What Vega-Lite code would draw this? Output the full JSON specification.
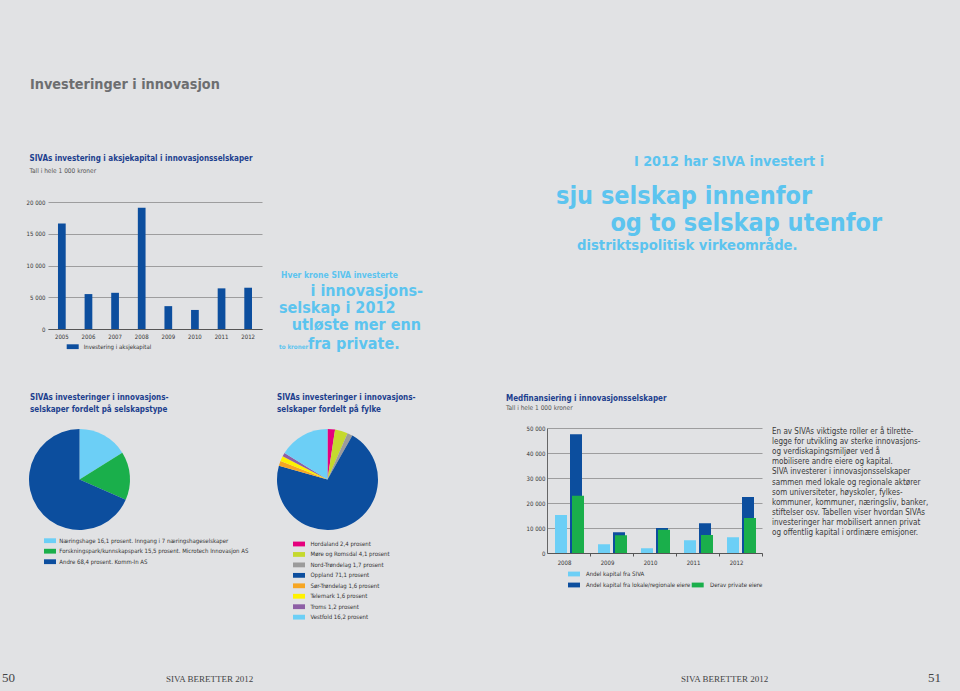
{
  "$schema": "https://vega.github.io/schema/vega-lite/v6.json",
  "padding": 0,
  "autosize": {"type": "pad"},
  "bounds": "flush",
  "spacing": 0,
  "resolve": {
    "scale": {"x": "independent", "y": "independent", "color": "independent", "fill": "independent", "theta": "independent", "xOffset": "independent"},
    "axis": {"x": "independent", "y": "independent"},
    "legend": {"color": "independent", "fill": "independent"}
  },
  "vconcat": [
    {
      "width": 960,
      "height": 202,
      "layer": [
        {"data": {"values": [{"tekst": "Investeringer i innovasjon"}]},
         "mark": {"type": "text", "align": "left", "baseline": "alphabetic", "fontSize": 14.3, "fontWeight": "bold", "color": "#6d6e70"},
         "encoding": {"text": {"field": "tekst"}, "x": {"value": 30}, "y": {"value": 89}}},
        {"data": {"values": [{"tekst": "I 2012 har SIVA investert i"}]},
         "mark": {"type": "text", "align": "center", "baseline": "alphabetic", "fontSize": 14.3, "fontWeight": "bold", "color": "#5cc4ef"},
         "encoding": {"text": {"field": "tekst"}, "x": {"value": 729}, "y": {"value": 166}}},
        {"data": {"values": [{"tekst": "sju selskap innenfor"}]},
         "mark": {"type": "text", "align": "left", "baseline": "alphabetic", "fontSize": 25, "fontWeight": "bold", "color": "#5cc4ef"},
         "encoding": {"text": {"field": "tekst"}, "x": {"value": 556}, "y": {"value": 204}}},
        {"data": {"values": [{"tekst": "og to selskap utenfor"}]},
         "mark": {"type": "text", "align": "right", "baseline": "alphabetic", "fontSize": 25, "fontWeight": "bold", "color": "#5cc4ef"},
         "encoding": {"text": {"field": "tekst"}, "x": {"value": 882}, "y": {"value": 230.5}}},
        {"data": {"values": [{"tekst": "distriktspolitisk virkeområde."}]},
         "mark": {"type": "text", "align": "left", "baseline": "alphabetic", "fontSize": 14.7, "fontWeight": "bold", "color": "#5cc4ef"},
         "encoding": {"text": {"field": "tekst"}, "x": {"value": 577}, "y": {"value": 250}}}
      ]
    },
    {
      "spacing": 0,
      "bounds": "flush",
      "resolve": {
        "scale": {"x": "independent", "y": "independent", "color": "independent"},
        "axis": {"x": "independent", "y": "independent"},
        "legend": {"color": "independent"}
      },
      "hconcat": [
        {"width": 48, "height": 1, "data": {"values": []}, "mark": "point"},
        {
          "width": 214,
          "height": 127,
          "title": {"text": "SIVAs investering i aksjekapital i innovasjonsselskaper", "subtitle": "Tall i hele 1 000 kroner", "anchor": "start", "frame": "group", "dx": -18.5, "fontSize": 8, "subtitleFontSize": 6.5, "subtitlePadding": 5.2, "offset": 24.5},
          "data": {"values": [
            {"aar": "2005", "beloep": 16600},
            {"aar": "2006", "beloep": 5500},
            {"aar": "2007", "beloep": 5700},
            {"aar": "2008", "beloep": 19100},
            {"aar": "2009", "beloep": 3600},
            {"aar": "2010", "beloep": 3000},
            {"aar": "2011", "beloep": 6400},
            {"aar": "2012", "beloep": 6500}
          ]},
          "mark": {"type": "bar"},
          "encoding": {
            "x": {"field": "aar", "type": "ordinal", "title": null,
                  "scale": {"paddingInner": 0.71, "paddingOuter": 0.375},
                  "axis": {"labelAngle": 0, "ticks": false, "labelPadding": 4, "domainColor": "#555555", "domainWidth": 1, "grid": false}},
            "y": {"field": "beloep", "type": "quantitative", "title": null,
                  "scale": {"domain": [0, 20000]},
                  "axis": {"values": [0, 5000, 10000, 15000, 20000], "labelExpr": "replace(format(datum.value, ',d'), ',', ' ')", "ticks": false, "domain": false, "labelPadding": 3, "grid": true}},
            "color": {"datum": "Investering i aksjekapital", "type": "nominal",
                      "scale": {"domain": ["Investering i aksjekapital"], "range": ["#0c4e9e"]},
                      "legend": {"orient": "none", "legendX": 21.7, "legendY": 141.7, "title": null, "symbolType": "M-2,-0.8H2V0.8H-2Z", "symbolSize": 36, "symbolStrokeWidth": 0, "labelFontSize": 6, "labelOffset": 8}}
          }
        },
        {"width": 16, "height": 1, "data": {"values": []}, "mark": "point"},
        {
          "width": 160,
          "height": 127,
          "layer": [
            {"data": {"values": [{"tekst": "Hver krone SIVA investerte"}]},
             "mark": {"type": "text", "align": "left", "baseline": "alphabetic", "fontSize": 8.5, "fontWeight": "bold", "color": "#5cc4ef"},
             "encoding": {"text": {"field": "tekst"}, "x": {"value": 3}, "y": {"value": 76.3}}},
            {"data": {"values": [{"tekst": "i innovasjons-"}]},
             "mark": {"type": "text", "align": "right", "baseline": "alphabetic", "fontSize": 16, "fontWeight": "bold", "color": "#5cc4ef"},
             "encoding": {"text": {"field": "tekst"}, "x": {"value": 145}, "y": {"value": 93.5}}},
            {"data": {"values": [{"tekst": "selskap i 2012"}]},
             "mark": {"type": "text", "align": "left", "baseline": "alphabetic", "fontSize": 16, "fontWeight": "bold", "color": "#5cc4ef"},
             "encoding": {"text": {"field": "tekst"}, "x": {"value": 1}, "y": {"value": 110.5}}},
            {"data": {"values": [{"tekst": "utløste mer enn"}]},
             "mark": {"type": "text", "align": "right", "baseline": "alphabetic", "fontSize": 16, "fontWeight": "bold", "color": "#5cc4ef"},
             "encoding": {"text": {"field": "tekst"}, "x": {"value": 143}, "y": {"value": 128.3}}},
            {"data": {"values": [{"tekst": "to kroner"}]},
             "mark": {"type": "text", "align": "left", "baseline": "alphabetic", "fontSize": 6.2, "fontWeight": "bold", "color": "#5cc4ef"},
             "encoding": {"text": {"field": "tekst"}, "x": {"value": 1}, "y": {"value": 146.6}}},
            {"data": {"values": [{"tekst": "fra private."}]},
             "mark": {"type": "text", "align": "left", "baseline": "alphabetic", "fontSize": 16, "fontWeight": "bold", "color": "#5cc4ef"},
             "encoding": {"text": {"field": "tekst"}, "x": {"value": 30}, "y": {"value": 147}}}
          ]
        }
      ]
    },
    {"width": 1, "height": 226, "data": {"values": []}, "mark": "point"},
    {
      "spacing": 0,
      "bounds": "flush",
      "resolve": {
        "scale": {"x": "independent", "y": "independent", "color": "independent", "fill": "independent", "theta": "independent", "xOffset": "independent"},
        "axis": {"x": "independent", "y": "independent"},
        "legend": {"color": "independent", "fill": "independent"}
      },
      "hconcat": [
        {
          "width": 159,
          "height": 103,
          "title": {"text": ["SIVAs investeringer i innovasjons-", "selskaper fordelt på selskapstype"], "anchor": "start", "frame": "group", "dx": 30, "fontSize": 8, "lineHeight": 11.6, "offset": 14.2},
          "data": {"values": [
            {"kategori": "Næringshage 16,1 prosent. Inngang i 7 næringshageselskaper", "andel": 16.1, "rekkefolge": 1},
            {"kategori": "Forskningspark/kunnskapspark 15,5 prosent. Microtech Innovasjon AS", "andel": 15.5, "rekkefolge": 2},
            {"kategori": "Andre 68,4 prosent. Komm-In AS", "andel": 68.4, "rekkefolge": 3}
          ]},
          "mark": {"type": "arc", "outerRadius": 50.5},
          "encoding": {
            "theta": {"field": "andel", "type": "quantitative", "stack": true},
            "order": {"field": "rekkefolge", "type": "quantitative"},
            "color": {"field": "kategori", "type": "nominal",
                      "scale": {"domain": ["Næringshage 16,1 prosent. Inngang i 7 næringshageselskaper", "Forskningspark/kunnskapspark 15,5 prosent. Microtech Innovasjon AS", "Andre 68,4 prosent. Komm-In AS"], "range": ["#6ccff6", "#1aaf4b", "#0c4e9e"]},
                      "legend": {"orient": "none", "legendX": 47, "legendY": 109.7, "title": null, "symbolType": "M-2,-0.8H2V0.8H-2Z", "symbolSize": 36, "symbolStrokeWidth": 0, "labelFontSize": 6, "labelOffset": 6.3, "rowPadding": 4.5, "labelLimit": 400}}
          }
        },
        {
          "width": 337,
          "height": 103,
          "title": {"text": ["SIVAs investeringer i innovasjons-", "selskaper fordelt på fylke"], "anchor": "start", "frame": "group", "dx": 118, "fontSize": 8, "lineHeight": 11.6, "offset": 14.2},
          "data": {"values": [
            {"fylke": "Hordaland 2,4 prosent", "andel": 2.4, "rekkefolge": 1},
            {"fylke": "Møre og Romsdal 4,1 prosent", "andel": 4.1, "rekkefolge": 2},
            {"fylke": "Nord-Trøndelag 1,7 prosent", "andel": 1.7, "rekkefolge": 3},
            {"fylke": "Oppland 71,1 prosent", "andel": 71.1, "rekkefolge": 4},
            {"fylke": "Sør-Trøndelag 1,6 prosent", "andel": 1.6, "rekkefolge": 5},
            {"fylke": "Telemark 1,6 prosent", "andel": 1.6, "rekkefolge": 6},
            {"fylke": "Troms 1,2 prosent", "andel": 1.2, "rekkefolge": 7},
            {"fylke": "Vestfold 16,2 prosent", "andel": 16.2, "rekkefolge": 8}
          ]},
          "mark": {"type": "arc", "outerRadius": 50.5},
          "encoding": {
            "theta": {"field": "andel", "type": "quantitative", "stack": true},
            "order": {"field": "rekkefolge", "type": "quantitative"},
            "color": {"field": "fylke", "type": "nominal",
                      "scale": {"domain": ["Hordaland 2,4 prosent", "Møre og Romsdal 4,1 prosent", "Nord-Trøndelag 1,7 prosent", "Oppland 71,1 prosent", "Sør-Trøndelag 1,6 prosent", "Telemark 1,6 prosent", "Troms 1,2 prosent", "Vestfold 16,2 prosent"],
                                "range": ["#e5007d", "#c5d92d", "#9b9b9b", "#0c4e9e", "#f6a623", "#fff200", "#8d5fa5", "#6ccff6"]},
                      "legend": {"orient": "none", "legendX": 137, "legendY": 113, "title": null, "symbolType": "M-2,-0.8H2V0.8H-2Z", "symbolSize": 36, "symbolStrokeWidth": 0, "labelFontSize": 6, "labelOffset": 8.5, "rowPadding": 4.45, "labelLimit": 400}}
          }
        },
        {"width": 51, "height": 1, "data": {"values": []}, "mark": "point"},
        {
          "width": 215,
          "height": 125,
          "title": {"text": "Medfinansiering i innovasjonsselskaper", "subtitle": "Tall i hele 1 000 kroner", "anchor": "start", "frame": "group", "dx": -41, "fontSize": 8, "subtitleFontSize": 6.5, "subtitlePadding": 2.2, "offset": 13.5},
          "encoding": {
            "x": {"field": "aar", "type": "ordinal", "title": null,
                  "scale": {"paddingInner": 0, "paddingOuter": 0},
                  "axis": {"labelAngle": 0, "ticks": true, "tickSize": 3, "bandPosition": 1, "labelPadding": 3, "labelOffset": -4, "domainColor": "#555555", "tickColor": "#555555", "grid": false}},
            "y": {"field": "beloep", "type": "quantitative", "title": null,
                  "scale": {"domain": [0, 50000]},
                  "axis": {"values": [0, 10000, 20000, 30000, 40000, 50000], "labelExpr": "replace(format(datum.value, ',d'), ',', ' ')", "ticks": false, "domain": true, "domainColor": "#666666", "labelPadding": 2, "grid": true}}
          },
          "layer": [
            {
              "data": {"name": "medfinansiering"},
              "transform": [{"filter": "datum.serie != 'Derav private eiere'"}],
              "mark": {"type": "bar"},
              "encoding": {
                "xOffset": {"field": "serie", "type": "nominal",
                            "scale": {"domain": ["Andel kapital fra SIVA", "Andel kapital fra lokale/regionale eiere"], "paddingInner": 0.2, "paddingOuter": 0.533, "align": 0.5}},
                "color": {"field": "serie", "type": "nominal",
                          "scale": {"domain": ["Andel kapital fra SIVA", "Andel kapital fra lokale/regionale eiere"], "range": ["#6ccff6", "#0c4e9e"]},
                          "legend": {"orient": "none", "legendX": 24, "legendY": 143, "title": null, "symbolType": "M-2,-0.8H2V0.8H-2Z", "symbolSize": 36, "symbolStrokeWidth": 0, "labelFontSize": 6, "labelOffset": 9, "rowPadding": 5, "labelLimit": 400}}
              }
            },
            {
              "data": {"name": "medfinansiering"},
              "transform": [{"filter": "datum.serie == 'Derav private eiere'"}],
              "mark": {"type": "bar"},
              "encoding": {
                "xOffset": {"field": "serie", "type": "nominal",
                            "scale": {"domain": ["Andel kapital fra SIVA", "Derav private eiere"], "paddingInner": 0.2, "paddingOuter": 0.533, "align": 0.625}},
                "fill": {"field": "serie", "type": "nominal",
                         "scale": {"domain": ["Derav private eiere"], "range": ["#1aaf4b"]},
                         "legend": {"orient": "none", "legendX": 147.7, "legendY": 154, "title": null, "symbolType": "M-2,-0.8H2V0.8H-2Z", "symbolSize": 36, "symbolStrokeWidth": 0, "labelFontSize": 6, "labelOffset": 9.3, "labelLimit": 400}}
              }
            },
            {
              "data": {"values": [{"avsnitt": [
                "En av SIVAs viktigste roller er å tilrette-",
                "legge for utvikling av sterke innovasjons-",
                "og verdiskapingsmiljøer ved å",
                "mobilisere andre eiere og kapital.",
                "SIVA investerer i innovasjonsselskaper",
                "sammen med lokale og regionale aktører",
                "som universiteter, høyskoler, fylkes-",
                "kommuner, kommuner, næringsliv, banker,",
                "stiftelser osv. Tabellen viser hvordan SIVAs",
                "investeringer har mobilisert annen privat",
                "og offentlig kapital i ordinære emisjoner."
              ]}]},
              "mark": {"type": "text", "align": "left", "baseline": "top", "fontSize": 8, "lineHeight": 10.1, "color": "#3a3a3a"},
              "encoding": {"text": {"field": "avsnitt"}, "x": {"value": 225}, "y": {"value": 0}}
            }
          ],
          "resolve": {"scale": {"xOffset": "independent"}}
        }
      ]
    },
    {"width": 1, "height": 232, "data": {"values": []}, "mark": "point"},
    {
      "width": 960,
      "height": 31,
      "layer": [
        {"data": {"values": [{"tekst": "50"}]},
         "mark": {"type": "text", "align": "left", "baseline": "alphabetic", "fontSize": 13, "font": "Liberation Serif, DejaVu Serif, serif", "color": "#444444"},
         "encoding": {"text": {"field": "tekst"}, "x": {"value": 2}, "y": {"value": 22}}},
        {"data": {"values": [{"tekst": "SIVA BERETTER 2012"}]},
         "mark": {"type": "text", "align": "left", "baseline": "alphabetic", "fontSize": 9, "font": "Liberation Serif, DejaVu Serif, serif", "color": "#444444"},
         "encoding": {"text": {"field": "tekst"}, "x": {"value": 166}, "y": {"value": 22}}},
        {"data": {"values": [{"tekst": "SIVA BERETTER 2012"}]},
         "mark": {"type": "text", "align": "left", "baseline": "alphabetic", "fontSize": 9, "font": "Liberation Serif, DejaVu Serif, serif", "color": "#444444"},
         "encoding": {"text": {"field": "tekst"}, "x": {"value": 681}, "y": {"value": 22}}},
        {"data": {"values": [{"tekst": "51"}]},
         "mark": {"type": "text", "align": "right", "baseline": "alphabetic", "fontSize": 13, "font": "Liberation Serif, DejaVu Serif, serif", "color": "#444444"},
         "encoding": {"text": {"field": "tekst"}, "x": {"value": 941}, "y": {"value": 22}}}
      ]
    }
  ],
  "datasets": {
    "medfinansiering": [
      {"aar": "2008", "serie": "Andel kapital fra SIVA", "beloep": 15200},
      {"aar": "2008", "serie": "Andel kapital fra lokale/regionale eiere", "beloep": 47500},
      {"aar": "2008", "serie": "Derav private eiere", "beloep": 22900},
      {"aar": "2009", "serie": "Andel kapital fra SIVA", "beloep": 3500},
      {"aar": "2009", "serie": "Andel kapital fra lokale/regionale eiere", "beloep": 8300},
      {"aar": "2009", "serie": "Derav private eiere", "beloep": 7100},
      {"aar": "2010", "serie": "Andel kapital fra SIVA", "beloep": 1900},
      {"aar": "2010", "serie": "Andel kapital fra lokale/regionale eiere", "beloep": 10000},
      {"aar": "2010", "serie": "Derav private eiere", "beloep": 9300},
      {"aar": "2011", "serie": "Andel kapital fra SIVA", "beloep": 5100},
      {"aar": "2011", "serie": "Andel kapital fra lokale/regionale eiere", "beloep": 11900},
      {"aar": "2011", "serie": "Derav private eiere", "beloep": 7200},
      {"aar": "2012", "serie": "Andel kapital fra SIVA", "beloep": 6300},
      {"aar": "2012", "serie": "Andel kapital fra lokale/regionale eiere", "beloep": 22400},
      {"aar": "2012", "serie": "Derav private eiere", "beloep": 14000}
    ]
  },
  "config": {
    "background": "#e1e2e4",
    "view": {"stroke": null},
    "font": "DejaVu Sans Condensed, sans-serif",
    "axis": {"labelFont": "DejaVu Sans Condensed, sans-serif", "labelFontSize": 6, "labelColor": "#333333", "domainColor": "#555555", "gridColor": "#8c8c8c", "gridWidth": 0.8, "tickColor": "#555555"},
    "legend": {"labelFont": "DejaVu Sans Condensed, sans-serif", "labelColor": "#333333", "padding": 0},
    "title": {"font": "DejaVu Sans Condensed, sans-serif", "fontWeight": "bold", "color": "#1d3f8e", "subtitleFont": "DejaVu Sans Condensed, sans-serif", "subtitleColor": "#555555"},
    "text": {"font": "DejaVu Sans Condensed, sans-serif"}
  }
}
